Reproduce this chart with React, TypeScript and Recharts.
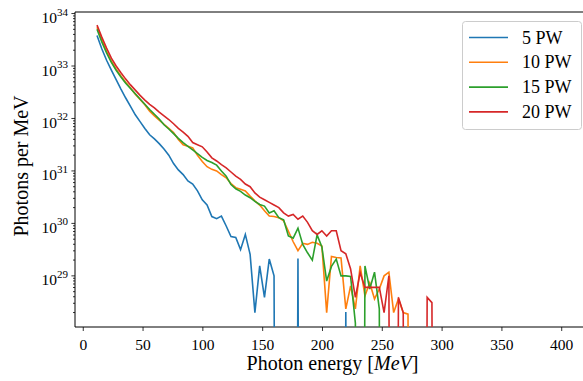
import React from 'react';
import { LineChart, Line, XAxis, YAxis, Legend, ReferenceArea } from 'recharts';

// photon energy bin centres [MeV]
const energy = [
  11.5, 15.5, 19.5, 23.5, 27.5, 31.5, 35.5, 39.5, 43.5, 47.5, 51.5, 55.5,
  59.5, 63.5, 67.5, 71.5, 75.5, 79.5, 83.5, 87.5, 91.5, 95.5, 99.5, 103.5,
  107.5, 111.5, 115.5, 119.5, 123.5, 127.5, 131.5, 135.5, 139.5, 143.5, 147.5, 151.5,
  155.5, 159.5, 163.5, 167.5, 171.5, 175.5, 179.5, 183.5, 187.5, 191.5, 195.5, 199.5,
  203.5, 207.5, 211.5, 215.5, 219.5, 223.5, 227.5, 231.5, 235.5, 239.5, 243.5, 247.5,
  251.5, 255.5, 259.5, 263.5, 267.5, 271.5, 275.5, 279.5, 283.5, 287.5, 291.5, 295.5,
];

// log10(photons per MeV), null = empty bin
const pw5 = [
  33.58, 33.33, 33.11, 32.92, 32.74, 32.56, 32.39, 32.23, 32.07, 31.94, 31.81, 31.69,
  31.61, 31.52, 31.42, 31.30, 31.14, 31.02, 30.93, 30.81, 30.75, 30.62, 30.45, 30.35,
  30.13, 30.09, 30.14, 29.95, 29.75, 29.73, 29.50, 29.79, 29.41, 28.30, 29.19, 28.59,
  29.32, 29.00, null, null, null, null, 29.33, null, null, null, null, null,
  null, null, null, null, 28.31, null, null, null, null, null, null, null,
  null, null, null, null, null, null, null, null, null, null, null, null,
];
const pw10 = [
  33.74, 33.50, 33.28, 33.09, 32.94, 32.81, 32.69, 32.58, 32.46, 32.36, 32.26, 32.14,
  32.05, 31.97, 31.89, 31.81, 31.73, 31.60, 31.50, 31.47, 31.44, 31.30, 31.18, 31.08,
  31.03, 31.00, 30.93, 30.87, 30.76, 30.68, 30.65, 30.62, 30.52, 30.43, 30.35, 30.24,
  30.14, 30.13, 30.11, 30.05, 29.85, 29.65, 29.48, 29.62, 29.60, 29.64, 29.62, 29.57,
  28.30, 29.37, 29.35, 29.34, 28.37, 28.81, 28.37, 29.19, 28.62, 28.87, 28.56, 28.75,
  29.00, 29.07, 28.30, 28.56, 28.30, 28.27, null, null, null, null, null, null,
];
const pw15 = [
  33.70, 33.46, 33.25, 33.07, 32.92, 32.79, 32.67, 32.57, 32.47, 32.37, 32.27, 32.17,
  32.08, 31.99, 31.88, 31.80, 31.71, 31.62, 31.54, 31.47, 31.40, 31.33, 31.26, 31.20,
  31.16, 31.11, 31.00, 30.90, 30.74, 30.66, 30.61, 30.54, 30.49, 30.42, 30.36, 30.33,
  30.20, 30.24, 30.11, 30.07, 29.76, 29.72, 29.91, 29.60, 29.44, 29.30, 29.78, 29.55,
  28.90, 29.18, 29.32, 29.00, 29.00, 28.99, 28.10, null, 29.19, 28.75, 29.07, 28.37,
  null, null, null, null, null, null, null, null, null, null, null, null,
];
const pw20 = [
  33.78, 33.55, 33.34, 33.15, 33.00, 32.87, 32.75, 32.64, 32.54, 32.44, 32.35, 32.27,
  32.20, 32.12, 32.05, 31.98, 31.90, 31.81, 31.74, 31.66, 31.54, 31.50, 31.46, 31.36,
  31.25, 31.19, 31.12, 31.06, 30.98, 30.90, 30.84, 30.75, 30.70, 30.58, 30.50, 30.45,
  30.40, 30.35, 30.30, 30.20, 30.14, 30.17, 30.08, 30.14, 30.02, 29.86, 29.79, 29.86,
  29.76, 29.86, 29.86, 29.48, 29.42, 29.13, 28.59, 29.06, 28.78, 28.78, 28.78, 28.78,
  28.30, 29.00, null, 28.59, 28.30, null, null, null, null, 28.59, 28.49, null,
];

const seriesNames = ['5 PW', '10 PW', '15 PW', '20 PW'];
const seriesColors = ['#1f77b4', '#ff7f0e', '#2ca02c', '#d62728'];
const seriesData = [pw5, pw10, pw15, pw20];

const xTicks = [0, 50, 100, 150, 200, 250, 300, 350, 400];
const yDecades = [28, 29, 30, 31, 32, 33, 34];
const yMantissas = [1, 2, 3, 4, 5, 6, 7, 8, 9];

const X_DOMAIN: [number, number] = [-6.9, 420.3];
const Y_DOMAIN: [number, number] = [1.06e28, 1.07e34];
// empty bins sit far below the axis, like matplotlib's clipped zeros
const EMPTY = 1e5;

const yTicks = yDecades
  .flatMap((d) => yMantissas.map((m) => m * 10 ** d))
  .filter((v) => v >= Y_DOMAIN[0] && v <= Y_DOMAIN[1]);

const rows = energy.map((e, i) => {
  const row: Record<string, number> = { energy: e };
  seriesData.forEach((s, k) => {
    const v = s[i];
    row[`s${k}`] = v == null ? EMPTY : 10 ** v;
  });
  return row;
});

const FONT = '"Liberation Serif", serif';

function YTick(props: any) {
  const { x, y, payload } = props;
  const lg = Math.log10(payload.value);
  const major = Math.abs(lg - Math.round(lg)) < 1e-6;
  return (
    <g>
      <line x1={x - (major ? 3.6 : 2)} x2={x} y1={y} y2={y} stroke="#000" strokeWidth={0.8} />
      {major && (
        <text x={x - 7} y={y + 9.5} textAnchor="end" fontFamily={FONT} fontSize={15.5} fill="#000">
          10<tspan dy={-7.5} fontSize={11}>{Math.round(lg)}</tspan>
        </text>
      )}
    </g>
  );
}

function XTick(props: any) {
  const { x, y, payload } = props;
  return (
    <text x={x} y={y + 16.5} textAnchor="middle" fontFamily={FONT} fontSize={15.5} fill="#000">
      {payload.value}
    </text>
  );
}

function XLabel(props: any) {
  const vb = props.viewBox || { x: 75, y: 327, width: 511 };
  return (
    <text x={vb.x + vb.width / 2 + 2} y={vb.y + 43} textAnchor="middle" fontFamily={FONT} fontSize={20} fill="#000">
      Photon energy [<tspan fontStyle="italic">MeV</tspan>]
    </text>
  );
}

function YLabel() {
  return (
    <text
      transform="translate(28,166) rotate(-90)"
      textAnchor="middle"
      fontFamily={FONT}
      fontSize={20}
      fill="#000"
    >
      Photons per MeV
    </text>
  );
}

function LegendBox() {
  return (
    <svg width={121} height={110}>
      <rect x={0.5} y={0.5} width={119} height={108} rx={3} fill="#fff" fillOpacity={0.8} stroke="#cccccc" />
      {seriesNames.map((name, k) => {
        const cy = 16.5 + k * 24.8;
        return (
          <g key={name}>
            <line x1={7} x2={46} y1={cy} y2={cy} stroke={seriesColors[k]} strokeWidth={1.6} />
            <text x={60} y={cy + 6} fontFamily={FONT} fontSize={18} fill="#000">
              {name}
            </text>
          </g>
        );
      })}
    </svg>
  );
}

export default function App() {
  return (
    <div
      style={{
        position: 'absolute',
        left: 0,
        top: 0,
        width: 583,
        height: 381,
        overflow: 'hidden',
        background: '#fff',
        fontFamily: FONT,
      }}
    >
      <LineChart width={590} height={381} data={rows} margin={{ top: 12, right: 4, bottom: 0, left: 0 }}>
        <XAxis
          dataKey="energy"
          type="number"
          domain={X_DOMAIN}
          allowDataOverflow
          ticks={xTicks}
          interval={0}
          height={54}
          axisLine={false}
          tickSize={4}
          tickLine={{ stroke: '#000', strokeWidth: 0.8 }}
          tick={<XTick />}
          label={<XLabel />}
        />
        <YAxis
          type="number"
          scale="log"
          domain={Y_DOMAIN}
          allowDataOverflow
          ticks={yTicks}
          interval={0}
          width={75}
          axisLine={false}
          tickLine={false}
          tickSize={0}
          tickMargin={0}
          tick={<YTick />}
          label={<YLabel />}
        />
        <ReferenceArea
          x1={X_DOMAIN[0]}
          x2={X_DOMAIN[1]}
          y1={Y_DOMAIN[0]}
          y2={Y_DOMAIN[1]}
          fill="none"
          stroke="#000"
          strokeWidth={1}
          ifOverflow="visible"
        />
        {seriesNames.map((name, k) => (
          <Line
            key={name}
            type="linear"
            dataKey={`s${k}`}
            name={name}
            stroke={seriesColors[k]}
            strokeWidth={1.6}
            dot={false}
            activeDot={false}
            isAnimationActive={false}
          />
        ))}
        <Legend
          layout="vertical"
          align="center"
          verticalAlign="middle"
          content={<LegendBox />}
          wrapperStyle={{ position: 'absolute', left: 462, top: 21, width: 121, height: 110 }}
        />
      </LineChart>
    </div>
  );
}
